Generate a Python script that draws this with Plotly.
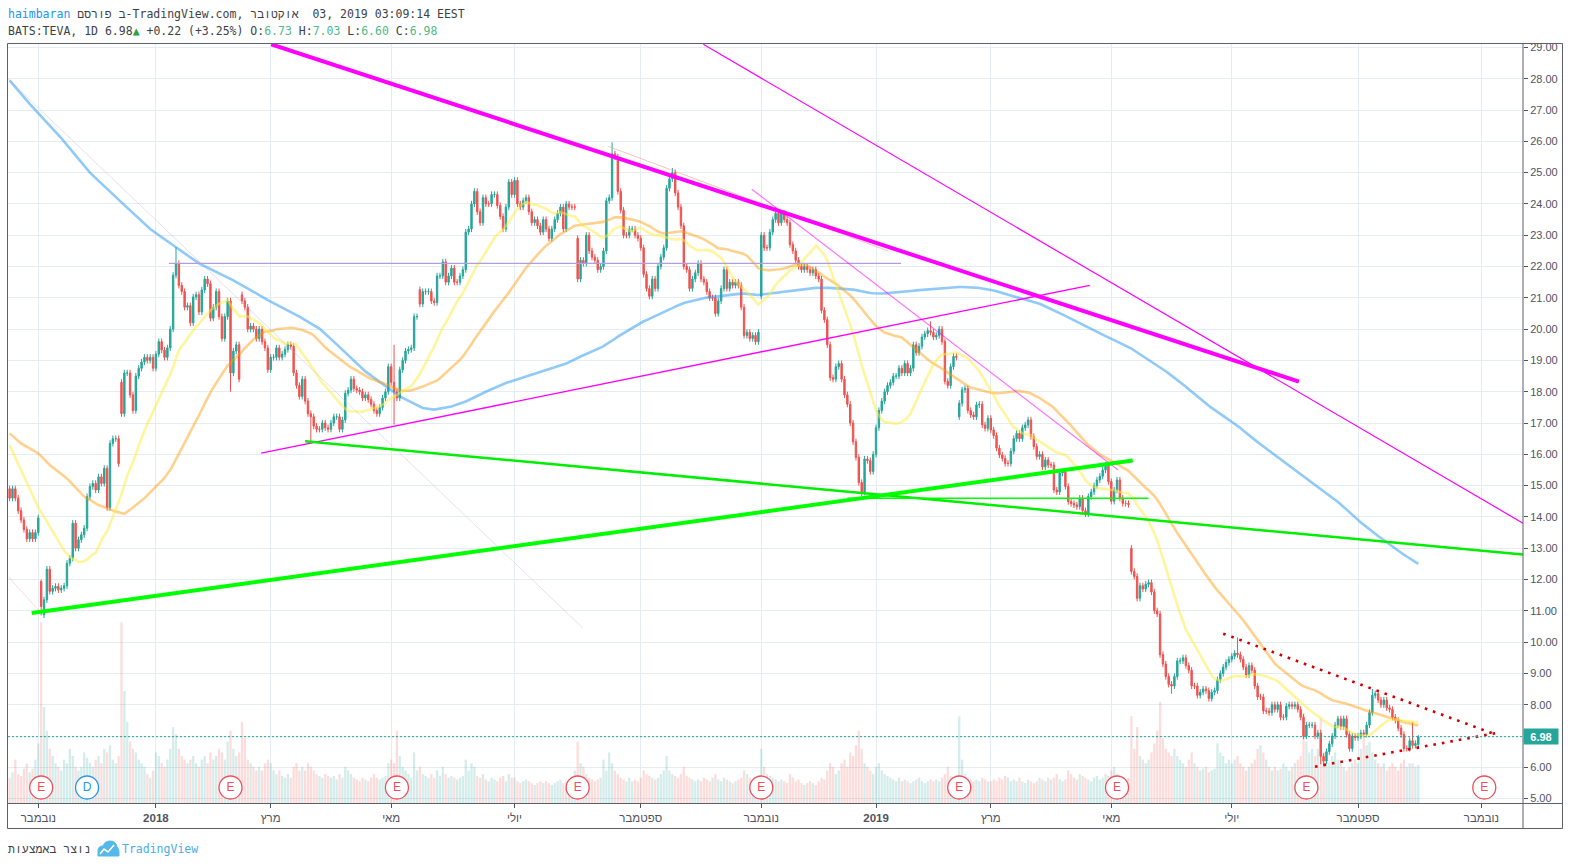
import plotly.graph_objects as go
import pandas as pd

# ---------------- data ----------------
NYSE_HOLIDAYS = ["2017-11-23", "2017-12-25", "2018-01-01", "2018-01-15", "2018-02-19", "2018-03-30",
                 "2018-05-28", "2018-07-04", "2018-09-03", "2018-11-22", "2018-12-05", "2018-12-25",
                 "2019-01-01", "2019-01-21", "2019-02-18", "2019-04-19", "2019-05-27", "2019-07-04",
                 "2019-09-02", "2019-11-28"]

# daily closes, first bar 2017-10-18, last bar 2019-10-02
closes_2017 = [
    14.6, 14.9, 14.6, 14.2, 13.9, 13.6, 13.3, 13.5, 13.3, 13.5,
    13.97, 11.14, 11.35, 12.33, 11.62, 11.72, 11.78, 11.67, 11.72, 11.8,
    12.52, 12.68, 13.8, 13.0, 13.27, 13.43, 13.64, 14.65, 14.97, 15.07, 14.86,
    15.28, 15.07, 15.55, 14.3, 16.35, 16.5, 16.5, 15.7, 17.3, 18.6,
    18.6, 17.9, 17.4, 18.5, 18.75, 18.95, 19.1, 19.0, 19.1, 18.75,
]
closes_2018 = [
    19.2, 19.6, 19.33, 19.1, 19.4, 20.0, 21.72, 22.1, 21.4, 21.2,
    20.7, 20.75, 20.2, 21.03, 21.1, 20.55, 21.25, 21.6, 21.45, 20.35, 20.7,
    21.2, 20.4, 19.7, 20.4, 20.9, 18.6, 19.3, 19.5, 18.4, 20.9,
    20.7, 20.0, 20.1, 20.0, 19.7, 20.0, 19.6, 19.4, 18.7,
    19.1, 19.1, 19.4, 19.1, 19.2, 19.35, 19.5, 19.45, 18.6, 18.2,
    17.85, 18.4, 17.7, 17.3, 17.2, 16.9, 16.8, 16.8, 17.0, 16.85, 16.8,
    17.0, 17.2, 17.2, 16.8, 17.1, 17.95, 18.05, 18.4, 18.1, 18.05,
    18.0, 17.8, 17.9, 17.75, 17.6, 17.4, 17.3, 17.5, 17.8, 18.0, 18.8,
    18.3, 18.0, 17.8, 18.7, 19.0, 19.3, 19.35, 19.4, 20.4, 20.4,
    20.8, 21.2, 21.2, 21.2, 20.9, 20.85, 21.7, 21.7, 22.15, 21.5, 21.7, 21.95,
    21.5, 21.5, 21.7, 21.9, 23.1, 23.2, 24.0, 24.4, 23.75, 23.4,
    24.2, 24.0, 24.0, 24.3, 24.3, 23.95, 23.6, 23.2, 23.9, 24.7, 24.3,
    24.75, 24.0, 23.9, 24.1, 24.2, 23.75, 23.4, 23.5, 23.3, 23.1,
    23.5, 23.2, 22.9, 23.2, 23.5, 23.7, 23.9, 23.2, 24.0, 23.9, 23.9,
    23.9, 21.6, 22.2, 22.1, 23.0, 22.5, 22.3, 22.2, 21.9, 22.0,
    22.5, 24.1, 24.2, 25.6, 25.5, 24.4, 23.8, 23.0, 23.0, 23.2, 23.2, 23.0, 22.9,
    22.6, 21.75, 21.3, 21.05, 21.6, 21.3, 22.0, 22.3, 22.6, 24.5,
    24.8, 25.0, 24.35, 23.9, 23.3, 22.0, 21.9, 21.3, 21.6,
    21.8, 22.1, 21.6, 21.5, 21.2, 21.0, 21.0, 20.5, 20.9, 21.3,
    21.9, 21.3, 21.5, 21.4, 21.5, 21.4, 20.7, 19.8, 19.9, 19.7, 19.8, 19.6, 19.9,
    23.0, 22.6, 22.6, 23.1, 23.5, 23.7, 23.4, 23.7, 23.5, 23.4,
    22.7, 22.5, 22.2, 22.0, 21.9, 22.0, 21.9, 21.8, 21.9, 21.7, 21.6,
    20.6, 20.3, 19.5, 18.45, 18.4, 18.8, 18.9, 18.4, 17.9, 17.6,
    17.0, 16.4, 15.9, 15.1, 14.8, 15.85, 15.8, 15.45, 16.0,
]
closes_2019 = [
    16.85, 17.4, 17.7, 18.0, 18.2, 18.3, 18.5, 18.5, 18.75, 18.6,
    18.9, 18.6, 18.75, 19.5, 19.25, 19.45, 19.75, 19.85, 19.95, 19.9, 19.75,
    19.8, 20.0, 19.6, 18.33, 18.2, 18.8, 19.13, 19.1, 17.63, 18.06,
    18.1, 17.4, 17.26, 17.2, 17.58, 17.6, 16.94, 16.83, 17.15,
    16.78, 16.6, 16.2, 15.98, 15.87, 15.71, 15.71, 16.1, 16.5, 16.67,
    16.5, 16.85, 16.94, 17.1, 16.57, 16.25, 15.93, 16.0, 15.6, 15.82, 15.66,
    15.66, 14.86, 14.8, 15.4, 15.45, 14.97, 14.49, 14.43, 14.38, 14.33,
    14.6, 14.2, 14.1, 14.65, 14.8, 15.0, 15.18, 15.3, 15.5, 15.66, 15.13,
    14.5, 14.86, 15.18, 14.6, 14.43, 14.43, 14.4, 12.26, 12.1, 11.4,
    11.8, 11.7, 11.85, 11.9, 11.6, 11.0, 10.9, 9.6, 9.3, 8.9, 8.65, 8.6,
    8.9, 9.4, 9.4, 9.5, 9.25, 9.1, 8.6, 8.6, 8.3, 8.4,
    8.5, 8.45, 8.2, 8.4, 8.45, 8.8, 9.0, 9.2, 9.35, 9.45,
    9.55, 9.65, 9.6, 9.45, 9.2, 8.95, 9.25, 9.1, 8.6, 8.25,
    8.25, 7.8, 7.8, 7.75, 8.0, 7.85, 8.0, 7.6, 7.6, 7.95, 8.0, 7.95,
    8.0, 7.85, 7.6, 7.0, 7.35, 7.35, 7.35, 7.0, 7.1, 6.35,
    6.2, 6.5, 6.75, 7.0, 7.35, 7.55, 7.3, 7.55, 7.05, 6.6, 7.0, 6.95,
    7.0, 7.1, 7.05, 7.35, 7.75, 8.3, 8.35, 8.15, 8.0, 8.15,
    7.9, 7.85, 7.6, 7.5, 7.25, 7.05, 6.6, 6.6, 6.85, 6.7,
    6.76, 6.98,
]

# daily volume, millions of shares
volume_2017 = [
    14, 17, 24, 16, 15, 19, 22, 17, 19, 24,
    33, 100, 53, 40, 30, 26, 22, 20, 18, 24, 22, 30, 26, 20, 18, 20, 28, 25, 22, 20, 24,
    26, 22, 30, 28, 32, 24, 22, 26, 100, 62, 45, 34, 30, 28, 24, 22, 20, 16, 14, 18,
]
volume_2018 = [
    28, 26, 22, 20, 24, 30, 42, 38, 30, 26, 24, 22, 24, 26, 22, 20, 24, 26, 22, 28, 24,
    26, 30, 28, 24, 34, 40, 30, 26, 28, 45, 36, 24, 22, 20, 18, 20, 18, 22, 24,
    22, 18, 16, 18, 15, 14, 16, 14, 20, 22, 18, 20, 18, 22, 20, 18, 16, 15, 14, 16, 15,
    14, 15, 13, 16, 14, 20, 18, 16, 14, 13, 12, 14, 13, 12, 14, 16, 14, 13, 14, 15, 22,
    24, 22, 40, 26, 20, 18, 16, 14, 28, 18, 20, 16, 15, 14, 16, 14, 18, 15, 20, 16, 14, 15,
    14, 13, 14, 15, 24, 18, 22, 20, 15, 14, 16, 13, 12, 14, 13, 12, 14, 15, 12, 16, 14,
    14, 12, 11, 12, 13, 12, 11, 10, 11, 12, 11, 12, 11, 10, 11, 12, 13, 11, 12, 11, 14,
    18, 34, 22, 20, 16, 14, 13, 12, 13, 14, 24, 18, 28, 22, 18, 16, 14, 13, 12, 14, 12, 13, 12,
    14, 18, 16, 15, 14, 13, 14, 16, 18, 26, 18, 16, 15, 14, 16, 20, 15, 14, 13,
    12, 13, 12, 14, 13, 12, 14, 16, 13, 12, 14, 13, 12, 11, 12, 13, 14, 18, 16, 14, 13, 12, 14,
    30, 20, 16, 15, 14, 13, 12, 13, 12, 11, 16, 14, 12, 13, 11, 10, 11, 12, 11, 10, 12,
    14, 13, 18, 22, 20, 16, 18, 22, 24, 20, 28, 26, 32, 40, 30, 22, 20, 18, 16,
]
volume_2019 = [
    20, 22, 18, 16, 15, 14, 13, 12, 14, 12, 13, 12, 11, 12, 13, 14, 12, 11, 12, 13, 12,
    13, 12, 14, 16, 20, 15, 13, 14, 48, 24, 16, 14, 13, 12, 13, 12, 14, 13, 12,
    12, 13, 12, 14, 13, 15, 14, 12, 13, 12, 14, 12, 11, 13, 12, 11, 12, 14, 13, 12, 14,
    13, 14, 16, 13, 12, 13, 18, 16, 14, 13, 16, 15, 14, 13, 12, 14, 15, 13, 14, 16, 15,
    18, 20, 16, 15, 14, 13, 14, 48, 30, 42, 26, 24, 22, 24, 28, 33, 40, 56, 36, 30, 28, 26,
    30, 26, 24, 22, 20, 24, 28, 22, 20, 18, 19, 20, 17, 18, 19, 33, 28, 26, 22, 24,
    22, 24, 26, 22, 20, 18, 20, 22, 24, 30, 32, 28, 24, 20, 18, 20, 18, 19, 22, 20, 18, 20,
    22, 24, 26, 50, 34, 28, 30, 26, 30, 47, 28, 24, 22, 26, 28, 24, 22, 20, 18, 20, 22, 24,
    22, 30, 36, 32, 34, 28, 24, 22, 20, 22, 18, 20, 22, 20, 18, 22, 24, 20, 22, 22,
    20, 21,
]

# opens on gap days (other bars open at the previous close) and visible wick extremes
gap_opens = {0: 14.9, 11: 11.94, 12: 10.87, 39: 18.3, 81: 21.1, 143: 21.26, 198: 22.9,
             262: 21.05, 331: 17.2, 391: 13.0, 491: 6.73}
wick_highs = {11: 12.0, 58: 22.62, 134: 19.5, 210: 25.97, 231: 25.15, 267: 23.9, 321: 20.25,
              391: 13.1, 428: 10.15, 475: 8.5, 489: 7.45, 491: 7.03}
wick_lows = {11: 10.85, 77: 18.0, 105: 16.35, 134: 16.95, 297: 14.67, 405: 8.35, 457: 6.1,
             458: 6.05, 491: 6.60}
WICK = 0.1

# moving-average values before enough history exists
yellow_early_idx = [0, 4, 8, 10, 14]
yellow_early_val = [16.3, 15.5, 14.75, 14.3, 13.7]
orange_early_idx = [0, 4, 10, 14, 20, 26, 31, 37, 40, 43, 47]
orange_early_val = [16.67, 16.35, 16.03, 15.66, 15.23, 14.65, 14.38, 14.17, 14.1, 14.3, 14.6]
blue_early_idx = [0, 7, 18, 28, 39, 49, 57, 66, 78, 90, 101, 108, 113, 124, 136, 144, 148,
                  154, 159, 166, 173, 182, 194]
blue_early_val = [27.95, 27.2, 26.1, 25.0, 24.05, 23.2, 22.68, 22.1, 21.56, 20.93, 20.4, 20.02,
                  19.6, 18.65, 17.85, 17.48, 17.43, 17.53, 17.69, 18.0, 18.28, 18.54, 18.9]

tick_months = ["2017-11", "2018-01", "2018-03", "2018-05", "2018-07", "2018-09", "2018-11",
               "2019-01", "2019-03", "2019-05", "2019-07", "2019-09", "2019-11"]
tick_labels = ["נובמבר", "<b>2018</b>", "מרץ", "מאי", "יולי", "ספטמבר", "נובמבר",
               "<b>2019</b>", "מרץ", "מאי", "יולי", "ספטמבר", "נובמבר"]
earnings_dates = ["2017-11-02", "2018-02-08", "2018-05-03", "2018-08-02", "2018-11-01",
                  "2019-02-13", "2019-05-03", "2019-08-07", "2019-11-04"]
dividend_dates = ["2017-11-27"]
price_ticks = list(range(5, 30))
last_price = 6.98

# drawings: (bar index, price) -> (bar index, price)
trendlines = [
    dict(p0=(-0.6, 28.0), p1=(199.7, 10.46), color="rgba(190,170,205,0.35)", width=1, dash="solid"),
    dict(p0=(-0.45, 12.09), p1=(10.6, 10.97), color="rgba(239,154,154,0.35)", width=1, dash="solid"),
    dict(p0=(55.5, 22.1), p1=(310.7, 22.1), color="#b39ddb", width=1.2, dash="solid"),
    dict(p0=(208.7, 25.84), p1=(306.3, 22.49), color="rgba(239,154,154,0.6)", width=1, dash="solid"),
    dict(p0=(87.7, 16.04), p1=(376.5, 21.4), color="#ff00ff", width=1.4, dash="solid"),
    dict(p0=(241.8, 29.1), p1=(527.5, 13.8), color="#ff00ff", width=1.2, dash="solid"),
    dict(p0=(258.7, 24.47), p1=(386.4, 15.5), color="rgba(255,0,255,0.55)", width=1.2, dash="solid"),
    dict(p0=(91.2, 29.1), p1=(449.4, 18.32), color="#ff00ff", width=4, dash="solid"),
    dict(p0=(103.0, 16.42), p1=(527.5, 12.8), color="#00ee00", width=2.5, dash="solid"),
    dict(p0=(292.0, 14.6), p1=(397.0, 14.6), color="#00ff00", width=1.5, dash="solid"),
    dict(p0=(7.7, 10.93), p1=(391.5, 15.8), color="#00ff00", width=4, dash="solid"),
    dict(p0=(423.0, 10.27), p1=(518.5, 7.03), color="#d00000", width=2.6, dash="2.6px,6px"),
    dict(p0=(455.0, 6.02), p1=(518.5, 7.10), color="#d00000", width=2.6, dash="2.6px,6px"),
]

# ---------------- derived ----------------
cal = pd.bdate_range("2017-10-18", "2019-11-29", freq="C", holidays=NYSE_HOLIDAYS)
cal_str = [d.strftime("%Y-%m-%d") for d in cal]
pos = {s: k for k, s in enumerate(cal_str)}


def first_of_month(ym):
    return next(k for k, s in enumerate(cal_str) if s.startswith(ym))


closes = closes_2017 + closes_2018 + closes_2019
volumes = volume_2017 + volume_2018 + volume_2019
n = len(closes)
xs = list(range(n))
opens = [gap_opens.get(k, closes[k - 1] if k > 0 else closes[0]) for k in range(n)]
highs = [max(opens[k], closes[k]) + WICK if k not in wick_highs
         else max(wick_highs[k], opens[k], closes[k]) for k in range(n)]
lows = [min(opens[k], closes[k]) - WICK if k not in wick_lows
        else min(wick_lows[k], opens[k], closes[k]) for k in range(n)]

s = pd.Series(closes)
ma20, ma50, ma200 = s.rolling(20).mean(), s.rolling(50).mean(), s.rolling(200).mean()
yellow_x = yellow_early_idx + list(range(19, n))
yellow_y = yellow_early_val + ma20.iloc[19:].tolist()
orange_x = orange_early_idx + list(range(49, n))
orange_y = orange_early_val + ma50.iloc[49:].tolist()
blue_x = blue_early_idx + list(range(199, n))
blue_y = blue_early_val + ma200.iloc[199:].tolist()

UP, DOWN = "#26a69a", "#ef5350"
vol_colors = ["rgba(38,166,154,0.2)" if closes[k] >= opens[k] else "rgba(239,83,80,0.2)"
              for k in range(n)]

# pixel helpers for decorations outside the plot area
PL, PR, PT, PB = 8, 1523, 44, 803
W, H = 1575, 868


def px(x):
    return (x - PL) / (PR - PL)


def py(y):
    return (PB - y) / (PB - PT)


X_RANGE = [(PL - 9.6) / 2.869, (PR - 9.6) / 2.869]
Y_RANGE = [4.86, 29.11]

FONT = "Liberation Sans, DejaVu Sans, Arial, sans-serif"
MONO = "DejaVu Sans Mono, Liberation Mono, monospace"
AX = "#50535e"
GRID = "#e6edf2"

fig = go.Figure()

fig.add_trace(go.Bar(x=xs, y=volumes, marker=dict(color=vol_colors, line=dict(width=0)),
                     width=0.8, yaxis="y", hoverinfo="skip"))

for mx, my, col in [(blue_x, blue_y, "rgba(33,150,243,0.5)"),
                    (orange_x, orange_y, "rgba(255,152,0,0.45)"),
                    (yellow_x, yellow_y, "rgba(255,235,59,0.5)")]:
    fig.add_trace(go.Scatter(x=mx, y=my, mode="lines", yaxis="y2", hoverinfo="skip",
                             line=dict(color=col, width=2.6)))

fig.add_trace(go.Candlestick(
    x=xs, open=opens, high=highs, low=lows, close=closes, yaxis="y2",
    increasing=dict(line=dict(color=UP, width=1), fillcolor=UP),
    decreasing=dict(line=dict(color=DOWN, width=1), fillcolor=DOWN),
    whiskerwidth=0, hoverinfo="skip"))

for t in trendlines:
    fig.add_trace(go.Scatter(x=[t["p0"][0], t["p1"][0]], y=[t["p0"][1], t["p1"][1]],
                             mode="lines", yaxis="y2", hoverinfo="skip",
                             line=dict(color=t["color"], width=t["width"], dash=t["dash"])))

# last price dotted line
fig.add_trace(go.Scatter(x=X_RANGE, y=[last_price, last_price], mode="lines", yaxis="y2",
                         hoverinfo="skip", line=dict(color=UP, width=1, dash="2px,2px")))

# event markers
marker_y = 5.355
ex = [pos[d] for d in earnings_dates]
fig.add_trace(go.Scatter(x=ex, y=[marker_y] * len(ex), mode="markers+text", yaxis="y2",
                         text=["E"] * len(ex), textposition="middle center",
                         textfont=dict(family=FONT, size=12, color="#f04e5b"),
                         marker=dict(size=23, color="white", line=dict(color="#f04e5b", width=1.3)),
                         hoverinfo="skip"))
dx = [pos[d] for d in dividend_dates]
fig.add_trace(go.Scatter(x=dx, y=[marker_y] * len(dx), mode="markers+text", yaxis="y2",
                         text=["D"] * len(dx), textposition="middle center",
                         textfont=dict(family=FONT, size=12, color="#2196f3"),
                         marker=dict(size=23, color="white", line=dict(color="#2196f3", width=1.3)),
                         hoverinfo="skip"))

tickvals_x = [first_of_month(m) for m in tick_months]

fig.update_layout(
    width=W, height=H, margin=dict(l=PL, r=W - PR, t=PT, b=H - PB),
    paper_bgcolor="white", plot_bgcolor="white", showlegend=False,
    xaxis=dict(range=X_RANGE, tickvals=tickvals_x, ticktext=tick_labels, showgrid=True,
               gridcolor=GRID, gridwidth=1, ticks="outside", ticklen=4, tickcolor=AX,
               tickfont=dict(family=FONT, size=11.5, color=AX), zeroline=False, showline=False,
               rangeslider=dict(visible=False), fixedrange=True),
    yaxis=dict(range=[0, 420], visible=False, fixedrange=True, showgrid=False),
    yaxis2=dict(overlaying="y", side="right", range=Y_RANGE, tickvals=price_ticks,
                ticktext=["" if v == 7 else f"{v:.2f}" for v in price_ticks],
                showgrid=True, gridcolor=GRID, gridwidth=1, ticks="outside", ticklen=4,
                tickcolor=AX, tickfont=dict(family=FONT, size=11, color=AX),
                zeroline=False, showline=False, fixedrange=True),
)

# frame: outer border + axis separators
BORDER = "#5d606b"
shapes = [
    dict(type="rect", xref="paper", yref="paper", x0=px(7.5), x1=px(1562.5), y0=py(828.5),
         y1=py(43.5), line=dict(color=BORDER, width=1), fillcolor="rgba(0,0,0,0)"),
    dict(type="line", xref="paper", yref="paper", x0=px(1523), x1=px(1523), y0=py(828.5),
         y1=py(43.5), line=dict(color=BORDER, width=1)),
    dict(type="line", xref="paper", yref="paper", x0=px(7.5), x1=px(1562.5), y0=py(803.5),
         y1=py(803.5), line=dict(color=BORDER, width=1)),
]


def path_px(cmds):
    out = []
    for c in cmds:
        if isinstance(c, str):
            out.append(c)
        else:
            out.append(f"{px(c[0]):.5f},{py(c[1]):.5f}")
    return " ".join(out)


logo = path_px(["M", (98, 856), "L", (98, 851), "Q", (98, 846), (103, 846), "Q", (105, 841),
                (110, 841), "Q", (116, 841), (117, 847), "Q", (119, 849), (119, 852), "L",
                (119, 856), "Z"])
zig = path_px(["M", (100, 854), "L", (104, 849), "L", (108, 852), "L", (114, 845)])
shapes.append(dict(type="path", xref="paper", yref="paper", path=logo, fillcolor="#56b8ea",
                   line=dict(color="#56b8ea", width=1)))
shapes.append(dict(type="path", xref="paper", yref="paper", path=zig,
                   line=dict(color="white", width=1.6)))
fig.update_layout(shapes=shapes)

GREEN_TXT = "#53b987"
LRM = "\u200E"
line1 = ('<span style="color:#2196f3">haimbaran</span> פורסם' + LRM + ' ב-TradingView.com, '
         'אוקטובר' + LRM + '  03, 2019 03:09:14 EEST')
line2 = ('BATS:TEVA, 1D 6.98<span style="color:#2ea043">▲</span> +0.22 (+3.25%) '
         f'O:<span style="color:{GREEN_TXT}">6.73</span> H:<span style="color:{GREEN_TXT}">7.03</span> '
         f'L:<span style="color:{GREEN_TXT}">6.60</span> C:<span style="color:{GREEN_TXT}">6.98</span>')

ann = [
    dict(x=px(6), y=py(14), xref="paper", yref="paper", text=line1, showarrow=False,
         xanchor="left", yanchor="middle", font=dict(family=MONO, size=11.5, color="#3d3f47")),
    dict(x=px(6), y=py(31), xref="paper", yref="paper", text=line2, showarrow=False,
         xanchor="left", yanchor="middle", font=dict(family=MONO, size=11.5, color="#3d3f47")),
    dict(x=px(6), y=py(849), xref="paper", yref="paper", text="נוצר באמצעות", showarrow=False,
         xanchor="left", yanchor="middle", font=dict(family=MONO, size=11.5, color="#3d3f47")),
    dict(x=px(120), y=py(849), xref="paper", yref="paper", text="TradingView", showarrow=False,
         xanchor="left", yanchor="middle", font=dict(family=MONO, size=11.5, color="#4aaee6")),
    dict(x=px(1523), y=last_price, xref="paper", yref="y2", text="<b>6.98</b>", showarrow=False,
         xanchor="left", yanchor="middle", bgcolor=UP, width=34, height=15, borderpad=0,
         font=dict(family=FONT, size=11, color="white"), align="center"),
]
fig.update_layout(annotations=ann)

fig.write_html("out.html", config={"displayModeBar": False})
